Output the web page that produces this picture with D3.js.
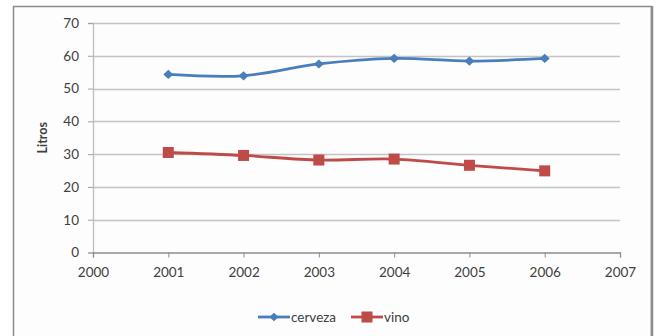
<!DOCTYPE html>
<html>
<head>
<meta charset="utf-8">
<script src="https://cdn.jsdelivr.net/npm/d3@7"></script>
<style>
  html, body { margin: 0; padding: 0; background: #ffffff; }
  svg { display: block; }
  text { font-family: Lato, "Open Sans", sans-serif; fill: #404040; }
</style>
</head>
<body>
<svg id="chart" width="659" height="336"></svg>
<script>
// Consumo por habitante (litros)
const years = [2001, 2002, 2003, 2004, 2005, 2006];
const cerveza = [54.3, 53.9, 57.5, 59.2, 58.4, 59.2];
const vino = [30.5, 29.6, 28.2, 28.5, 26.6, 24.9];
const xTicks = [2000, 2001, 2002, 2003, 2004, 2005, 2006, 2007];
const yTicks = [0, 10, 20, 30, 40, 50, 60, 70];
const seriesNames = ["cerveza", "vino"];
const seriesColors = ["#4a7ebb", "#be4b48"];
const yTitle = "Litros";

const svg = d3.select("#chart");
const W = 659, H = 336;

// chart frame
svg.append("rect").attr("x", 0).attr("y", 0).attr("width", W).attr("height", H).attr("fill", "#ffffff");
svg.append("rect")
  .attr("x", 13.5).attr("y", 6.5).attr("width", 638).attr("height", 340)
  .attr("fill", "#fdfdfd").attr("stroke", "#8c8c8c").attr("stroke-width", 1.5);
svg.append("line").attr("x1", 652).attr("x2", 652).attr("y1", 6).attr("y2", H)
  .attr("stroke", "#8c8c8c").attr("stroke-width", 2.5);

const x = d3.scaleLinear().domain([2000, 2007]).range([93, 620]);
const y = d3.scaleLinear().domain([0, 70]).range([252.5, 23]);

// horizontal gridlines
svg.append("g").selectAll("line").data(yTicks.filter(d => d > 0)).join("line")
  .attr("x1", x(2000)).attr("x2", x(2007))
  .attr("y1", d => Math.round(y(d)) + 0.5).attr("y2", d => Math.round(y(d)) + 0.5)
  .attr("stroke", "#c4c4c4").attr("stroke-width", 1.3);

// y axis
const yAxis = svg.append("g").attr("transform", `translate(${x(2000)},0)`)
  .call(d3.axisLeft(y).tickValues(yTicks).tickSize(5).tickPadding(9).tickFormat(d3.format("d")));
yAxis.select(".domain").attr("stroke", "#bdbdbd").attr("stroke-width", 1.3);
yAxis.selectAll(".tick line").attr("stroke", "#a0a0a0");
yAxis.selectAll("text").style("font-size", "13.5px").attr("fill", "#404040");

// x axis
const xAxis = svg.append("g").attr("transform", `translate(0,${y(0)})`)
  .call(d3.axisBottom(x).tickValues(xTicks).tickSize(5).tickPadding(10).tickFormat(d3.format("d")));
xAxis.select(".domain").attr("stroke", "#8c8c8c").attr("stroke-width", 1.3);
xAxis.selectAll(".tick line").attr("stroke", "#8c8c8c");
xAxis.selectAll("text").style("font-size", "13.5px").attr("fill", "#404040");

// y axis title
svg.append("text")
  .attr("transform", `translate(47,${(y(0) + y(70)) / 2}) rotate(-90)`)
  .attr("text-anchor", "middle")
  .style("font-size", "12.5px").style("font-weight", "bold")
  .attr("fill", "#1a1a1a")
  .text(yTitle);

// series
const seriesData = [cerveza, vino];
const line = d3.line()
  .x((d, i) => x(years[i]))
  .y(d => y(d))
  .curve(d3.curveCardinal.tension(0));

// diamond marker: a square turned 45 degrees
const diamondPath = d3.symbol().type(d3.symbolSquare).size(50);

seriesData.forEach((vals, si) => {
  const g = svg.append("g");
  g.append("path").datum(vals)
    .attr("d", line)
    .attr("fill", "none")
    .attr("stroke", seriesColors[si])
    .attr("stroke-width", 2.8)
    .attr("stroke-linejoin", "round");
  if (si === 0) {
    g.selectAll("path.m").data(vals).join("path")
      .attr("class", "m")
      .attr("transform", (d, i) => `translate(${x(years[i])},${y(d)}) scale(1,0.92) rotate(45)`)
      .attr("d", diamondPath)
      .attr("fill", seriesColors[si]);
  } else {
    g.selectAll("rect.m").data(vals).join("rect")
      .attr("class", "m")
      .attr("x", (d, i) => x(years[i]) - 5.5)
      .attr("y", d => y(d) - 5.5)
      .attr("width", 11).attr("height", 11)
      .attr("fill", seriesColors[si]);
  }
});

// legend
const legend = svg.append("g");
const legendItems = [
  { name: seriesNames[0], color: seriesColors[0], x0: 258, shape: "diamond" },
  { name: seriesNames[1], color: seriesColors[1], x0: 351, shape: "square" }
];
const ly = 317;
legendItems.forEach(it => {
  legend.append("line")
    .attr("x1", it.x0).attr("x2", it.x0 + 32)
    .attr("y1", ly).attr("y2", ly)
    .attr("stroke", it.color).attr("stroke-width", 2.8);
  if (it.shape === "diamond") {
    legend.append("path")
      .attr("transform", `translate(${it.x0 + 16},${ly}) scale(1,0.92) rotate(45)`)
      .attr("d", d3.symbol().type(d3.symbolSquare).size(42))
      .attr("fill", it.color);
  } else {
    legend.append("rect")
      .attr("x", it.x0 + 16 - 5.5).attr("y", ly - 5.5)
      .attr("width", 11).attr("height", 11)
      .attr("fill", it.color);
  }
  legend.append("text")
    .attr("x", it.x0 + 33).attr("y", ly)
    .attr("dy", "0.35em")
    .style("font-size", "13.5px")
    .text(it.name);
});
</script>
</body>
</html>
